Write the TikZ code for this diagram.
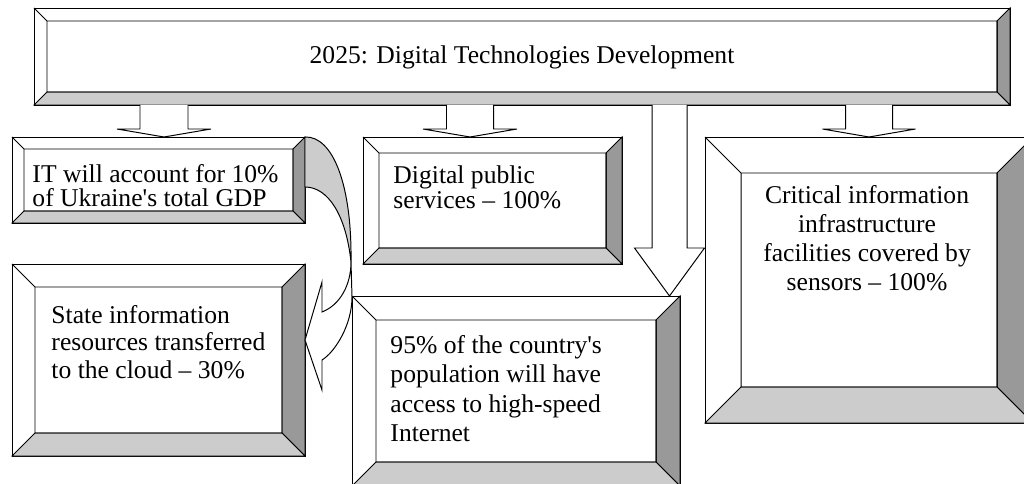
\documentclass[tikz,border=0pt]{standalone}
\usepackage{fontspec}
\setmainfont{Liberation Serif}
\usetikzlibrary{calc}
\definecolor{faceDark}{HTML}{999999}
\definecolor{faceLight}{HTML}{CCCCCC}
\tikzset{
  panel/.style={draw, fill=white, inner sep=0pt, outer sep=0pt},
  arrowbody/.style={draw, fill=white, line join=miter},
  boxtext/.style={inner sep=0pt, align=left, font=\fontsize{18.2}{#1}\selectfont},
  boxtext/.default=20.6
}
\newcommand\bevelpanel[6]{%
  \node[panel, minimum width={(#4-#2)*0.025cm}, minimum height={(#5-#3)*0.025cm}] (#1) at ({(#2+#4)/2},{(#3+#5)/2}) {};
  \filldraw[fill=faceDark] (#1.north east) -- (#1.south east) -- ($(#1.south east)+(-#6,-#6)$) -- ($(#1.north east)+(-#6,#6)$) -- cycle;
  \filldraw[fill=faceLight] (#1.south east) -- (#1.south west) -- ($(#1.south west)+(#6,-#6)$) -- ($(#1.south east)+(-#6,-#6)$) -- cycle;
  \draw (#1.north west) -- ($(#1.north west)+(#6,#6)$) rectangle ($(#1.south east)+(-#6,-#6)$);
}
\newcommand\blockdown[6]{%
  \pgfmathsetmacro\arL{#3-#4}\pgfmathsetmacro\arR{#3+#4}%
  \pgfmathsetmacro\hdL{#3-#5}\pgfmathsetmacro\hdR{#3+#5}%
  \filldraw[arrowbody] (\arL,0 |- #1.south) -- ($(\arL,0 |- #2.north)+(0,-#6)$) -- ($(\hdL,0 |- #2.north)+(0,-#6)$) -- (#3,0 |- #2.north) -- ($(\hdR,0 |- #2.north)+(0,-#6)$) -- ($(\arR,0 |- #2.north)+(0,-#6)$) -- (\arR,0 |- #1.south);
}
\begin{document}
\begin{tikzpicture}[x=0.025cm, y=-0.025cm, line width=0.7pt]
\path[use as bounding box, fill=white] (0,0) rectangle (1024,484);
\bevelpanel{top}{34}{8}{1010}{105}{13}
\node[boxtext, anchor=base] (topT) at (522,64) {2025: Digital Technologies Development};
\bevelpanel{it}{12}{137}{305}{223}{12}
\bevelpanel{dps}{363}{137}{622}{264}{16}
\bevelpanel{st}{12}{264}{305}{456}{23}
\bevelpanel{net}{352}{296}{680}{486}{24}
\bevelpanel{cii}{705}{137}{1033}{423}{36}
\blockdown{top}{it}{164}{24}{47}{8}
\blockdown{top}{dps}{470}{23.5}{47}{8}
\blockdown{top}{net}{669.5}{17.5}{35}{48}
\blockdown{top}{cii}{869}{23.5}{46.5}{8}
\filldraw[fill=faceLight] (it.north east) .. controls (333,136) and (352,185) .. (351,262) .. controls (346,215) and (328,187) .. ($(it.north east)+(0,50)$) -- cycle;
\filldraw[fill=white] (351,262) .. controls (351,285) and (340,305) .. (322,312) -- (322,282) -- ($(st.east)+(0,-20)$) -- (322,390) -- (322,360) .. controls (335,352) and (352,325) .. (352,297) -- cycle;
\node[boxtext=17.1, anchor=north west] (itT) at (32,164) {IT will account for 10\%\\of Ukraine\textquotesingle s total GDP};
\node[boxtext=17.8, anchor=north west] (dpsT) at (393,165) {Digital public\\services – 100\%};
\node[boxtext=19.5, anchor=north west] (stT) at (51,305) {State information\\resources transferred\\to the cloud – 30\%};
\node[boxtext=20.8, anchor=north west] (netT) at (390,335) {95\% of the country\textquotesingle s\\population will have\\access to high-speed\\Internet};
\node[boxtext=20.6, anchor=north, align=center] (ciiT) at (867,185) {Critical information\\infrastructure\\facilities covered by\\sensors – 100\%};
\end{tikzpicture}
\end{document}
